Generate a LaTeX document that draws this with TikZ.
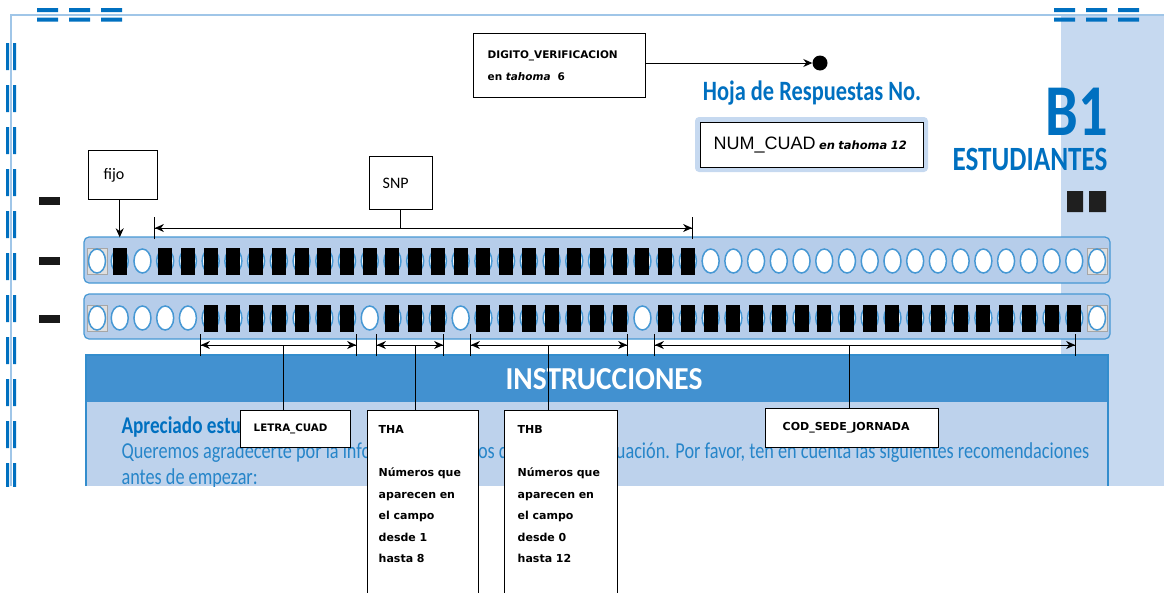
\documentclass[tikz,border=0pt]{standalone}
\usepackage{fontspec}
\setmainfont{DejaVu Sans}
\newfontfamily\formfont[FakeStretch=0.8]{Carlito}
\newfontfamily\headfont[FakeStretch=0.92]{Carlito}
\newfontfamily\labelfont{Carlito}
\newfontfamily\arialfont{Liberation Sans}
\usetikzlibrary{arrows.meta,positioning,shapes.geometric}

\definecolor{formblue}{RGB}{0,112,192}
\definecolor{headblue}{RGB}{66,145,208}
\definecolor{paleblue}{RGB}{198,217,240}
\definecolor{bodyblue}{RGB}{189,210,236}
\definecolor{stripblue}{RGB}{182,205,234}
\definecolor{ringblue}{RGB}{70,152,212}
\definecolor{edgeblue}{RGB}{160,198,232}

\tikzset{
  bubble/.style={ellipse,draw=ringblue,line width=1.5pt,fill=white,
    minimum width=17pt,minimum height=24pt,inner sep=0pt},
  inkmark/.style={fill=black,minimum width=14pt,minimum height=27pt,inner sep=0pt},
  notebox/.style={draw=black,line width=1.4pt,fill=white,anchor=north west,
    align=left,inner ysep=0pt,font=\bfseries\fontsize{11}{21.5}\selectfont},
  dimline/.style={line width=0.9pt,
    {Bar[width=22pt]Stealth[length=9pt,width=8pt]}-{Stealth[length=9pt,width=8pt]Bar[width=22pt]}},
  tip/.style={line width=0.9pt,-{Stealth[length=9pt,width=8pt]}},
}

\begin{document}
\begin{tikzpicture}[x=1pt,y=-1pt]
  \useasboundingbox (0,0) rectangle (1164,592);
  \clip (0,0) rectangle (1164,592);

  % the answer sheet, cut off at the bottom
  \begin{scope}
    \clip (0,0) rectangle (1164,486);
    \fill[paleblue] (1061,15) rectangle (1164,486);
    \draw[edgeblue,line width=2pt] (11,486) -- (11,15) -- (1164,15);
    \foreach \x in {37,69,101,1054,1086,1118}
      \fill[formblue] (\x,8) rectangle ++(21,4) (\x,17.5) rectangle ++(21,4);
    \foreach \y in {43,85,...,463}
      \fill[formblue] (6,\y) rectangle ++(3,27) (13,\y) rectangle ++(3,27);
    \foreach \y in {201,261,319}
      \fill[black!90] (39,\y-4) rectangle ++(21,8);
    \fill[black!88] (1067,191) rectangle (1083,212) (1089,191) rectangle (1106,212);

    \node[font=\formfont\bfseries\fontsize{28}{30}\selectfont,text=formblue] (hoja) at (812,93) {Hoja de Respuestas No.};
    \node[font=\formfont\bfseries\fontsize{73}{75}\selectfont,text=formblue,inner sep=0pt] (bone) at (1077,112) {B1};
    \node[font=\formfont\bfseries\fontsize{34}{36}\selectfont,text=formblue,inner sep=0pt] (estud) at (1030,159) {ESTUDIANTES};

    % two rows of bubbles
    \draw[ringblue,fill=stripblue,line width=1.2pt,rounded corners=5pt] (84,237) rectangle (1110,283);
    \draw[ringblue,fill=stripblue,line width=1.2pt,rounded corners=5pt] (84,294) rectangle (1110,339);
    \foreach \x in {87,1087}
      \draw[gray!70,fill=gray!25,line width=1pt] (\x,248) rectangle ++(20,26) (\x,305) rectangle ++(20,26);
    \foreach \k in {0,...,44} {
      \node[bubble] (top\k) at ({97+22.727*\k},261) {};
      \node[bubble] (low\k) at ({97+22.727*\k},318) {};
    }
    \foreach \k in {1,3,4,...,26}
      \node[inkmark] (topm\k) at (top\k) {};
    \foreach \a/\b in {5/11,13/15,17/23,25/43}
      \foreach \k in {\a,...,\b}
        \node[inkmark] (lowm\k) at (low\k) {};

    % instructions
    \fill[bodyblue] (86,402) rectangle (1108,486);
    \fill[headblue] (86,355) rectangle (1108,402);
    \draw[formblue!80,line width=1.5pt] (86,486) -- (86,355) -- (1108,355) -- (1108,486);
    \node[font=\headfont\bfseries\fontsize{32}{34}\selectfont,text=white] (instr) at (604,379) {INSTRUCCIONES};
    \node[font=\formfont\bfseries\fontsize{24}{26}\selectfont,text=formblue,anchor=base west] (aprec) at (118,433) {Apreciado estudiante:};
    \node[font=\formfont\fontsize{22.8}{25}\selectfont,text=formblue!85,anchor=base west] (quer) at (118,458)
      {Queremos agradecerte por la información que nos das en esta evaluación. Por favor, ten en cuenta las siguientes recomendaciones};
    \node[font=\formfont\fontsize{22.8}{25}\selectfont,text=formblue!85,anchor=base west] (antes) at (118,484) {antes de empezar:};
  \end{scope}

  % field labels
  \fill[paleblue,rounded corners=4pt] (695,117) rectangle (928,172);
  \node[notebox,inner xsep=13pt,text width=197pt,minimum height=45pt,font=\mdseries] (numcuad) at (700,122)
    {{\arialfont\fontsize{18}{20}\selectfont NUM\_CUAD} {\bfseries\itshape\fontsize{11.5}{12}\selectfont en tahoma~12}};

  \node[notebox,inner xsep=14pt,text width=144pt,minimum height=64pt,font=\bfseries\fontsize{10.5}{22}\selectfont] (digito) at (473,33)
    {DIGITO\_VERIFICACION\\ en \textit{tahoma}~~6};
  \node[circle,fill=black,minimum size=15pt,inner sep=0pt] (dvdot) at (820,63) {};
  \draw[tip] (digito.east |- dvdot) -- (dvdot.west);

  \node[notebox,inner xsep=15pt,text width=39pt,minimum height=49pt,font=\labelfont\fontsize{16}{18}\selectfont] (fijo) at (88,150) {fijo};
  \draw[tip] (fijo.south -| topm1) -- ([yshift=10pt]topm1.north);

  \node[notebox,inner xsep=13pt,text width=37pt,minimum height=53pt,font=\labelfont\fontsize{16}{18}\selectfont] (snp) at (369,156) {SNP};
  \coordinate (snpL) at (154,228);
  \coordinate (snpR) at (693,228);
  \coordinate (snpM) at (400,228);
  \draw[dimline] (snpL) -- (snpR);
  \draw[line width=0.9pt] (snp.south -| snpM) -- (snpM);

  \coordinate (letraL) at (200,345);
  \coordinate (letraR) at (357,345);
  \coordinate (letraM) at (283,345);
  \coordinate (thaL) at (376,345);
  \coordinate (thaR) at (444,345);
  \coordinate (thaM) at (415,345);
  \coordinate (thbL) at (470,345);
  \coordinate (thbR) at (628,345);
  \coordinate (thbM) at (548,345);
  \coordinate (codL) at (654,345);
  \coordinate (codR) at (1076,345);
  \coordinate (codM) at (849,345);
  \draw[dimline] (letraL) -- (letraR);
  \draw[dimline] (thaL) -- (thaR);
  \draw[dimline] (thbL) -- (thbR);
  \draw[dimline] (codL) -- (codR);

  \node[notebox,inner xsep=13pt,text width=84pt,minimum height=37pt,font=\bfseries\fontsize{10.3}{12}\selectfont] (letra) at (240,410) {LETRA\_CUAD};
  \node[notebox,inner xsep=11pt,inner ysep=15pt,text width=89pt] (tha) at (367,410)
    {THA\\\mbox{}\\Números que\\aparecen en\\el campo\\desde 1\\hasta 8\\[30pt]\mbox{}};
  \node[notebox,inner xsep=13pt,inner ysep=15pt,text width=87pt] (thb) at (504,410)
    {THB\\\mbox{}\\Números que\\aparecen en\\el campo\\desde 0\\hasta 12\\[30pt]\mbox{}};
  \node[notebox,inner xsep=17pt,text width=139pt,minimum height=39pt] (cod) at (765,408) {COD\_SEDE\_JORNADA};

  \draw[line width=0.9pt] (letraM) -- (letraM |- letra.north);
  \draw[line width=0.9pt] (thaM) -- (thaM |- tha.north);
  \draw[line width=0.9pt] (thbM) -- (thbM |- thb.north);
  \draw[line width=0.9pt] (codM) -- (codM |- cod.north);
\end{tikzpicture}
\end{document}
